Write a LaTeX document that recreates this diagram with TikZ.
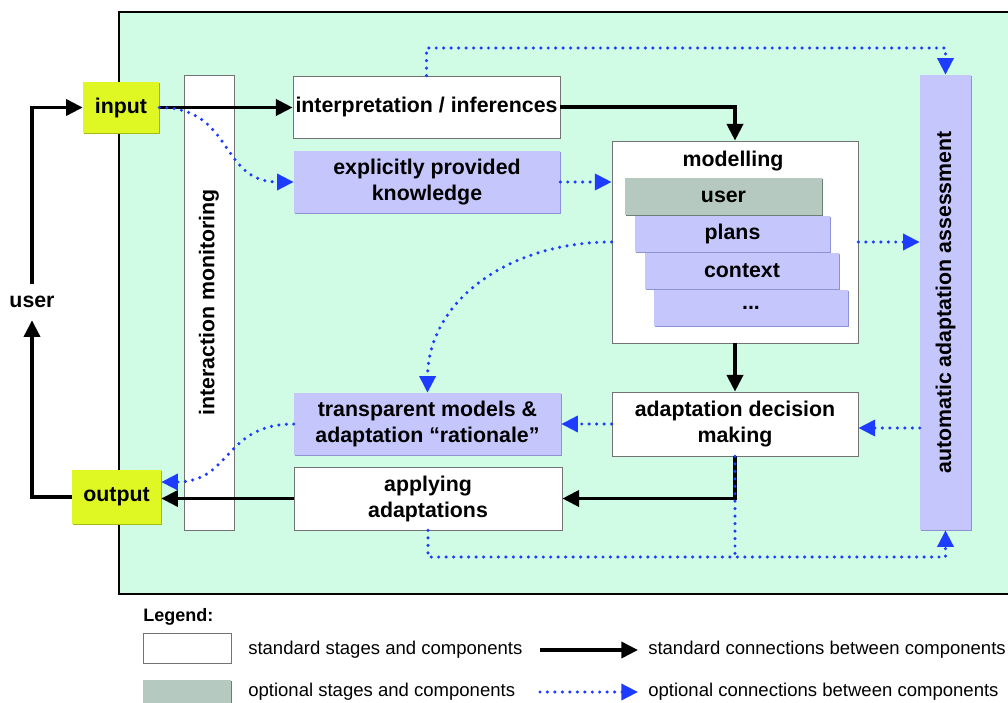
\documentclass[tikz,border=0pt]{standalone}
\usepackage{fontspec}
\setmainfont{Liberation Sans}
\usetikzlibrary{arrows.meta,shadows,calc}
\definecolor{mint}{RGB}{208,252,230}
\definecolor{lav}{RGB}{196,198,252}
\definecolor{lavdark}{RGB}{140,146,212}
\definecolor{yel}{RGB}{223,248,35}
\definecolor{yeldark}{RGB}{165,185,20}
\definecolor{gry}{RGB}{182,201,193}
\definecolor{grydark}{RGB}{110,125,118}
\definecolor{blu}{RGB}{30,60,255}
\begin{document}
\begin{tikzpicture}[x=0.75pt,y=-0.75pt,
  lbl/.style={font=\bfseries\fontsize{16}{19.5}\selectfont, align=center, inner sep=0pt},
  legtxt/.style={font=\fontsize{13.9}{16}\selectfont, inner sep=0pt, anchor=west},
  stdbox/.style={lbl, rectangle, fill=white, draw=black!55, line width=0.6pt,
    drop shadow={shadow xshift=1.1pt,shadow yshift=-1.1pt,opacity=1,fill=black!80}},
  optbox/.style={lbl, rectangle, fill=lav,
    drop shadow={shadow xshift=1.1pt,shadow yshift=-1.1pt,opacity=1,fill=lavdark}},
  iobox/.style={lbl, rectangle, fill=yel,
    drop shadow={shadow xshift=1.1pt,shadow yshift=-1.1pt,opacity=1,fill=yeldark}},
  grybox/.style={lbl, rectangle, fill=gry,
    drop shadow={shadow xshift=1.1pt,shadow yshift=-1.1pt,opacity=1,fill=grydark}},
  conn/.style={line width=2.7pt, draw=black, -{Triangle[length=12.5pt,width=12pt]}},
  opline/.style={line width=2.6pt, draw=blu, dash pattern=on 0pt off 5.6pt, line cap=round},
  opconn/.style={opline, -{Triangle[length=12.5pt,width=12pt]}}
]
\useasboundingbox (0,0) rectangle (1008,703);
\clip (0,0) rectangle (1008,703);
% background frame
\draw[fill=mint, line width=1.6pt] (119,12) rectangle (1020,594);

% nodes
\node[iobox, minimum width=57pt, minimum height=38.25pt] (input) at (121,107.5) {input};
\node[iobox, minimum width=66.75pt, minimum height=40.5pt] (output) at (116.5,497) {output};
\node[lbl, minimum height=27pt] (userlbl) at (32,302) {user};
\node[stdbox, minimum width=37.5pt, minimum height=341.25pt] (mon) at (209,302.5) {\rotatebox{90}{interaction monitoring}};
\node[stdbox, minimum width=200.25pt, minimum height=46.5pt] (interp) at (426.5,107) {interpretation / inferences};
\node[optbox, minimum width=199.5pt, minimum height=46.5pt] (explicit) at (427,182) {explicitly provided\\knowledge};
\node[stdbox, minimum width=184.5pt, minimum height=151.5pt] (model) at (735,242) {};
\node[lbl] (modt) at (733,161) {modelling};
\node[grybox, minimum width=147.75pt, minimum height=27.75pt] (muser) at (723.5,196.5) {user};
\node[optbox, minimum width=146.25pt, minimum height=27pt] (mplans) at (732.5,234) {plans};
\node[optbox, minimum width=145.5pt, minimum height=27pt] (mctx) at (742,271) {context};
\node[optbox, minimum width=145.5pt, minimum height=27pt] (mdots) at (751,308) {...};
\node[optbox, minimum width=38.25pt, minimum height=341.25pt] (assess) at (945.5,302.5) {\rotatebox{90}{automatic adaptation assessment}};
\node[optbox, minimum width=200.25pt, minimum height=46.5pt] (transp) at (427.5,424) {transparent models \&\\adaptation “rationale”};
\node[stdbox, minimum width=184.5pt, minimum height=48pt] (decision) at (735,424) {adaptation decision\\making};
\node[stdbox, minimum width=201pt, minimum height=47.25pt] (applying) at (428,498.5) {applying\\adaptations};

% connectors
\draw[conn] (userlbl.north) |- (input.west);
\draw[conn] (output.west) -| (userlbl.south);
\draw[conn] (input.east) -- (input.east -| interp.west);
\draw[opconn] (input.east) .. controls +(75,0) and +(-75,0) .. (explicit.west);
\draw[conn] (interp.east) -| (model.north);
\draw[opconn] (explicit.east) -- (explicit.east -| model.west);
\coordinate (topc) at (945.5,48);
\draw[opconn] (interp.north) |- (topc) -- (assess.north);
\draw[opconn] (model.east) -- (model.east -| assess.west);
\draw[opconn] (model.west) .. controls (510,242) and (428,300) .. (transp.north);
\draw[conn] (model.south) -- (decision.north);
\draw[opconn] (decision.west) -- (decision.west -| transp.east);
\draw[opconn] ($(assess.west)+(0,125.5)$) -- ($(decision.east)+(0,4)$);
\draw[conn] (decision.south) |- (applying.east);
\draw[conn] (applying.west) -- (applying.west -| output.east);
\draw[opconn] (transp.west) .. controls +(-70,0) and +(70,0) .. ($(output.east)+(0,-15)$);
\coordinate (botc) at (945.5,557);
\draw[opconn] (applying.south) |- (botc) -- (assess.south);
\draw[opline] (decision.south) -- (decision.south |- botc);

% legend
\node[font=\bfseries\fontsize{13.5}{16}\selectfont, anchor=west, inner sep=0pt] (legt) at (143,617) {Legend:};
\node[stdbox, minimum width=66pt, minimum height=22.5pt] (leg1) at (187,648) {};
\node[grybox, minimum width=66pt, minimum height=22.5pt] (leg2) at (187,695) {};
\node[legtxt] (l1t) at (248,650) {standard stages and components};
\node[legtxt] (l2t) at (248,692) {optional stages and components};
\coordinate (a1s) at (540,650); \coordinate (a1e) at (638,650);
\coordinate (a2s) at (540,692); \coordinate (a2e) at (638,692);
\draw[conn] (a1s) -- (a1e);
\draw[opconn] (a2s) -- (a2e);
\node[legtxt] (l1c) at (648,650) {standard connections between components};
\node[legtxt] (l2c) at (648,692) {optional connections between components};
\end{tikzpicture}
\end{document}
